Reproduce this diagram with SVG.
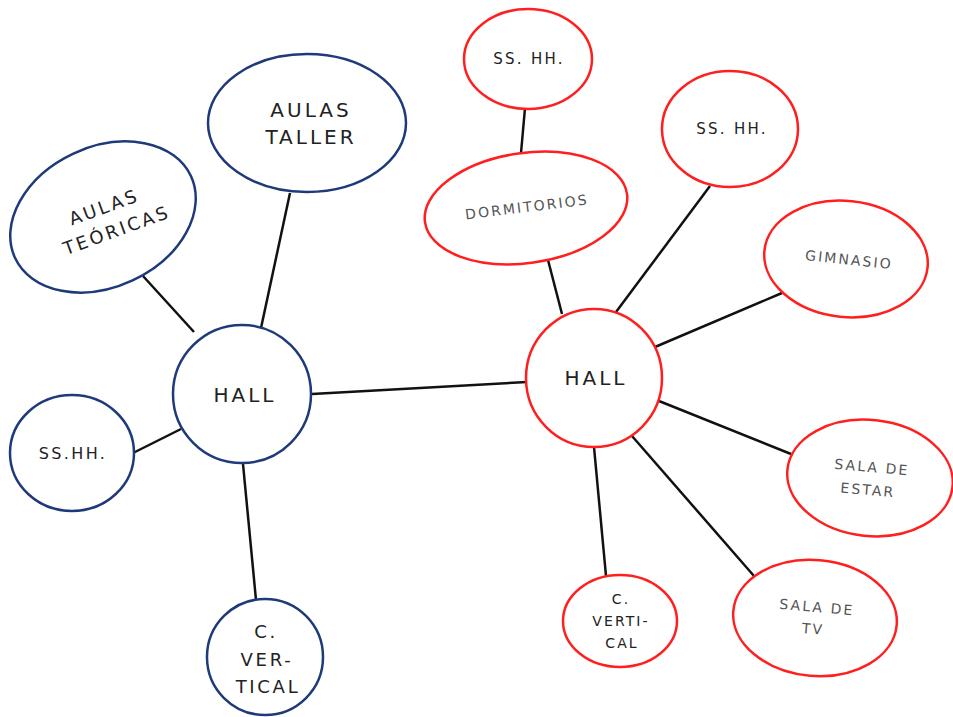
<svg xmlns="http://www.w3.org/2000/svg" width="953" height="717" viewBox="0 0 953 717">
<style>
.b{fill:#fff;stroke:#1f3a7a;stroke-width:2.5}
.r{fill:#fff;stroke:#ff1f1f;stroke-width:2.5}
.c line{stroke:#111;stroke-width:2.5}
text{font-family:"DejaVu Sans",sans-serif;fill:#222;text-anchor:middle;letter-spacing:0.15em}
.l{fill:#555}
</style>
<rect width="953" height="717" fill="#fff"/>
<g class="c" id="connectors">
<line x1="143" y1="276" x2="194" y2="332"/>
<line x1="290" y1="193" x2="261" y2="328"/>
<line x1="133" y1="453" x2="181" y2="429"/>
<line x1="243" y1="464" x2="256" y2="600"/>
<line x1="312" y1="394" x2="527" y2="382"/>
<line x1="525" y1="108" x2="521" y2="153"/>
<line x1="548" y1="260" x2="562" y2="314"/>
<line x1="710" y1="186" x2="616" y2="312"/>
<line x1="782" y1="293" x2="655" y2="347"/>
<line x1="659" y1="401" x2="791" y2="454"/>
<line x1="632" y1="436" x2="754" y2="576"/>
<line x1="594" y1="447" x2="606" y2="576"/>
</g>
<g id="aulas-taller"><ellipse class="b" cx="307" cy="123" rx="99" ry="69"/>
<text font-size="20"><tspan x="311" y="117">AULAS</tspan><tspan x="311" y="144">TALLER</tspan></text></g>
<g id="aulas-teoricas"><ellipse class="b" cx="103" cy="217" rx="97" ry="70" transform="rotate(-25 103 217)"/>
<text font-size="18" transform="rotate(-20 110 218)"><tspan x="108" y="212">AULAS</tspan><tspan x="112" y="238">TEÓRICAS</tspan></text></g>
<g id="hall-blue"><circle class="b" cx="242" cy="394" r="69"/>
<text font-size="20" x="245" y="402">HALL</text></g>
<g id="sshh-blue"><ellipse class="b" cx="72" cy="453" rx="62" ry="58"/>
<text font-size="16" x="73" y="459">SS.HH.</text></g>
<g id="cvert-blue"><circle class="b" cx="265" cy="657" r="58"/>
<text font-size="18"><tspan x="266" y="638">C.</tspan><tspan x="267" y="666">VER-</tspan><tspan x="268" y="693">TICAL</tspan></text></g>
<g id="sshh-top"><ellipse class="r" cx="528" cy="59" rx="64" ry="50"/>
<text font-size="15" x="529" y="64">SS. HH.</text></g>
<g id="dormitorios"><ellipse class="r" cx="526" cy="208" rx="102" ry="55" transform="rotate(-8 526 208)"/>
<text class="l" font-size="14" x="527" y="212" transform="rotate(-7 526 208)">DORMITORIOS</text></g>
<g id="sshh-right"><ellipse class="r" cx="730" cy="129" rx="68" ry="58"/>
<text font-size="15" x="732" y="134">SS. HH.</text></g>
<g id="gimnasio"><ellipse class="r" cx="846" cy="259" rx="82" ry="58" transform="rotate(6 846 259)"/>
<text class="l" font-size="14" x="849" y="265" transform="rotate(6 853 260)">GIMNASIO</text></g>
<g id="hall-red"><ellipse class="r" cx="594" cy="378" rx="68" ry="69"/>
<text font-size="20" x="596" y="385">HALL</text></g>
<g id="sala-estar"><ellipse class="r" cx="870" cy="478" rx="83" ry="58" transform="rotate(6 870 478)"/>
<text class="l" font-size="14" transform="rotate(5 870 478)"><tspan x="871" y="472">SALA DE</tspan><tspan x="869" y="495">ESTAR</tspan></text></g>
<g id="sala-tv"><ellipse class="r" cx="815" cy="618" rx="82" ry="58" transform="rotate(5 815 618)"/>
<text class="l" font-size="14" transform="rotate(5 815 618)"><tspan x="816" y="612">SALA DE</tspan><tspan x="814" y="634">TV</tspan></text></g>
<g id="cvert-red"><ellipse class="r" cx="620" cy="621" rx="57" ry="46"/>
<text font-size="14"><tspan x="621" y="604">C.</tspan><tspan x="621" y="626">VERTI-</tspan><tspan x="622" y="648">CAL</tspan></text></g>
</svg>
